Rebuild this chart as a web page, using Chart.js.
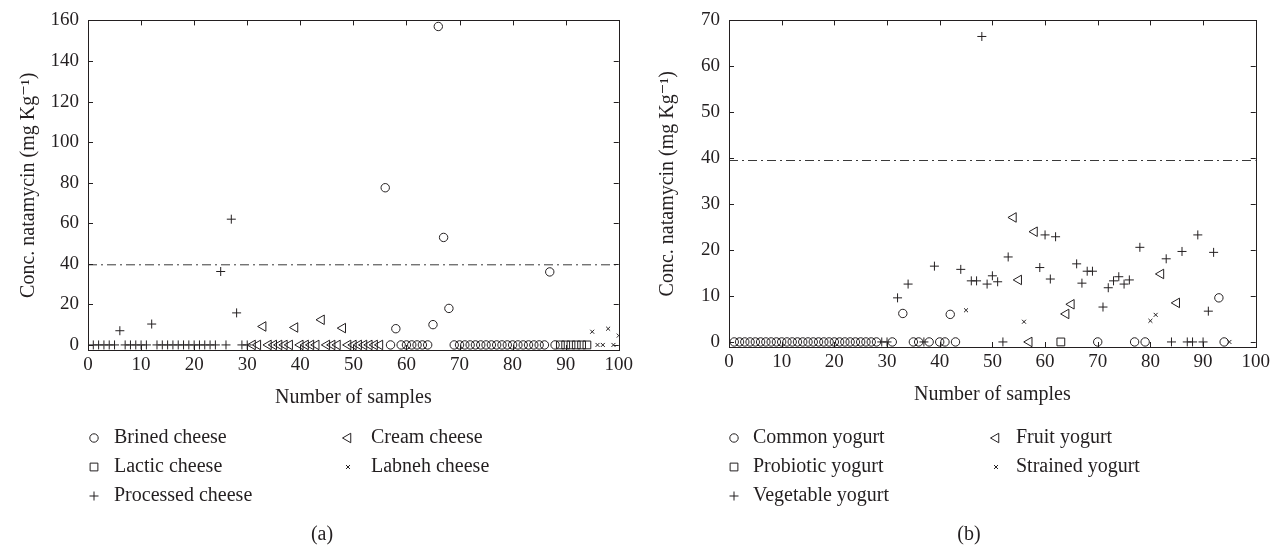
<!DOCTYPE html>
<html>
<head>
<meta charset="utf-8">
<script src="https://cdn.jsdelivr.net/npm/chart.js@4.4.1/dist/chart.umd.min.js"></script>
<style>
html,body{margin:0;padding:0;background:#fff;}
#wrap{position:relative;width:1274px;height:549px;overflow:hidden;}
canvas{position:absolute;top:0;}
</style>
</head>
<body>
<div id="wrap">
<canvas id="cheese" width="637" height="549" style="left:0"></canvas>
<canvas id="yogurt" width="637" height="549" style="left:637px"></canvas>
</div>
<script>
// ---------- data ----------
const sampleTicks = [0,10,20,30,40,50,60,70,80,90,100];
const cheeseConcTicks = [0,20,40,60,80,100,120,140,160];
const yogurtConcTicks = [0,10,20,30,40,50,60,70];
const limitLevel = 39.5;

// (a) cheese
const brinedX = [56,57,58,59,60,61,62,63,64,65,66,67,68,69,70,71,72,73,74,75,76,77,78,79,80,81,82,83,84,85,86,87,88];
const brinedY = [77.5,0,8,0,0,0,0,0,0,10,157,53,18,0,0,0,0,0,0,0,0,0,0,0,0,0,0,0,0,0,0,36,0];
const lacticX = [89,90,91,92,93,94];
const lacticY = [0,0,0,0,0,0];
const processedX = [1,2,3,4,5,6,7,8,9,10,11,12,13,14,15,16,17,18,19,20,21,22,23,24,25,26,27,28,29,30];
const processedY = [0,0,0,0,0,7,0,0,0,0,0,10.3,0,0,0,0,0,0,0,0,0,0,0,0,36.2,0,62,15.8,0,0];
const creamX = [31,32,33,34,35,36,37,38,39,40,41,42,43,44,45,46,47,48,49,50,51,52,53,54,55];
const creamY = [0,0,9.1,0,0,0,0,0,8.6,0,0,0,0,12.4,0,0,0,8.3,0,0,0,0,0,0,0];
const labnehX = [95,96,97,98,99,100];
const labnehY = [6.5,0,0,8,0,4.6];

// (b) yogurt
const commonX = [1,2,3,4,5,6,7,8,9,10,11,12,13,14,15,16,17,18,19,20,21,22,23,24,25,26,27,28,31,33,35,36,38,40,41,42,43,70,77,79,93,94];
const commonY = [0,0,0,0,0,0,0,0,0,0,0,0,0,0,0,0,0,0,0,0,0,0,0,0,0,0,0,0,0,6.2,0,0,0,0,0,6.0,0,0,0,0,9.6,0];
const probioticX = [63];
const probioticY = [0];
const vegetableX = [29,30,32,34,37,39,44,46,47,48,49,50,51,52,53,59,60,61,62,66,67,68,69,71,72,73,74,75,76,78,83,84,86,87,88,89,90,91,92];
const vegetableY = [0,0,9.6,12.6,0,16.5,15.8,13.3,13.3,66.5,12.6,14.4,13.1,0,18.5,16.2,23.3,13.7,22.9,17,12.8,15.4,15.4,7.6,11.8,13.3,14.2,12.6,13.5,20.6,18.1,0,19.7,0,0,23.3,0,6.7,19.5];
const fruitX = [54,55,57,58,64,65,82,85];
const fruitY = [27.1,13.5,0,24,6.1,8.2,14.8,8.5];
const strainedX = [45,56,80,81,95];
const strainedY = [6.9,4.4,4.6,5.9,0];

const cheeseLabels = ['Brined cheese','Lactic cheese','Processed cheese','Cream cheese','Labneh cheese'];
const yogurtLabels = ['Common yogurt','Probiotic yogurt','Vegetable yogurt','Fruit yogurt','Strained yogurt'];

// ---------- style ----------
const FONT = "'Liberation Serif','DejaVu Serif','Times New Roman',serif";
const INK = '#231f20';
const MARK = {
  circle: {pointStyle:'circle', radius:4.2, rotation:0},
  rect:   {pointStyle:'rect', radius:5.5, rotation:0},
  cross:  {pointStyle:'cross', radius:4.5, rotation:0},
  tri:    {pointStyle:'triangle', radius:5.5, rotation:-90},
  x:      {pointStyle:'crossRot', radius:2.8, rotation:0}
};

function pts(xs, ys){ return xs.map((x,i)=>({x:x, y:ys[i]})); }

function scatterSet(label, xs, ys, m){
  const s = MARK[m];
  return {
    type:'scatter', label:label, data:pts(xs, ys),
    pointStyle:s.pointStyle, pointRadius:s.radius, pointHoverRadius:s.radius,
    pointRotation:s.rotation, pointBorderWidth:1, pointBorderColor:INK,
    pointBackgroundColor:'rgba(0,0,0,0)', borderColor:INK, backgroundColor:'rgba(0,0,0,0)',
    showLine:false, order:1, legendMark:m
  };
}
function limitSet(){
  return {
    type:'line', label:'limit', data:[{x:0,y:limitLevel},{x:100,y:limitLevel}],
    borderColor:'#3a3a3a', borderWidth:1, borderDash:[9,4,2,4], pointRadius:0,
    fill:false, order:2, legendMark:null
  };
}

// legend marker (same shapes as chart points)
function drawMark(ctx, m, x, y){
  const r = MARK[m].radius;
  ctx.save();
  ctx.strokeStyle = INK; ctx.lineWidth = 1;
  ctx.beginPath();
  if (m === 'circle') { ctx.arc(x, y, r, 0, Math.PI*2); }
  else if (m === 'rect') { const h = r*Math.SQRT1_2; ctx.rect(x-h, y-h, 2*h, 2*h); }
  else if (m === 'cross') { ctx.moveTo(x-r,y); ctx.lineTo(x+r,y); ctx.moveTo(x,y-r); ctx.lineTo(x,y+r); }
  else if (m === 'tri') {
    let a = -Math.PI/2;
    ctx.moveTo(x + Math.sin(a)*r, y - Math.cos(a)*r);
    a += 2*Math.PI/3; ctx.lineTo(x + Math.sin(a)*r, y - Math.cos(a)*r);
    a += 2*Math.PI/3; ctx.lineTo(x + Math.sin(a)*r, y - Math.cos(a)*r);
    ctx.closePath();
  }
  else if (m === 'x') { const d = r*Math.SQRT1_2; ctx.moveTo(x-d,y-d); ctx.lineTo(x+d,y+d); ctx.moveTo(x+d,y-d); ctx.lineTo(x-d,y+d); }
  ctx.stroke();
  ctx.restore();
}

const framePlugin = {
  id:'frameTicks',
  afterDatasetsDraw(chart){
    const ctx = chart.ctx, a = chart.chartArea;
    const xs = chart.scales.x, ys = chart.scales.y;
    const L = 5;
    ctx.save();
    ctx.strokeStyle = INK; ctx.lineWidth = 1;
    ctx.strokeRect(Math.round(a.left)+0.5, Math.round(a.top)+0.5, Math.round(a.right-a.left), Math.round(a.bottom-a.top));
    ctx.beginPath();
    xs.ticks.forEach(t=>{
      const p = Math.round(xs.getPixelForValue(t.value))+0.5;
      ctx.moveTo(p, a.bottom); ctx.lineTo(p, a.bottom-L);
      ctx.moveTo(p, a.top); ctx.lineTo(p, a.top+L);
    });
    ys.ticks.forEach(t=>{
      const p = Math.round(ys.getPixelForValue(t.value))+0.5;
      ctx.moveTo(a.left, p); ctx.lineTo(a.left+L, p);
      ctx.moveTo(a.right, p); ctx.lineTo(a.right-L, p);
    });
    ctx.stroke();
    ctx.restore();
  }
};

const legendPlugin = {
  id:'colLegend',
  afterDraw(chart, args, opts){
    const ctx = chart.ctx;
    const sets = chart.data.datasets.filter(d=>d.legendMark);
    ctx.save();
    ctx.font = opts.fontSize + 'px ' + FONT;
    ctx.fillStyle = INK;
    ctx.textBaseline = 'middle';
    ctx.textAlign = 'left';
    sets.forEach((d,i)=>{
      const col = i < 3 ? 0 : 1;
      const row = i < 3 ? i : i-3;
      const y = opts.rows[row];
      drawMark(ctx, d.legendMark, opts.markX[col], y);
      ctx.fillText(d.label, opts.textX[col], y);
    });
    ctx.textAlign = 'center';
    ctx.fillText(opts.caption, opts.captionX, opts.captionY);
    ctx.restore();
  }
};

function makeChart(id, datasets, L){
  const tickFont = {family:FONT, size:19};
  return new Chart(document.getElementById(id), {
    data:{datasets:datasets},
    options:{
      responsive:false, animation:false, devicePixelRatio:1,
      layout:{padding:{top:L.top, right:L.right, left:0, bottom:549 - L.bottom - 60}},
      plugins:{
        legend:{display:false}, tooltip:{enabled:false},
        colLegend:{fontSize:20, rows:[438,467,496], markX:L.markX, textX:L.textX,
                   caption:L.caption, captionX:L.captionX, captionY:535}
      },
      scales:{
        x:{type:'linear', position:'bottom', min:0, max:100,
           afterBuildTicks:s=>{ s.ticks = sampleTicks.map(v=>({value:v})); },
           afterFit:s=>{ s.height = 60; },
           grid:{display:false, drawTicks:false},
           border:{display:false},
           ticks:{font:tickFont, color:INK, padding:4, maxRotation:0},
           title:{display:true, text:'Number of samples', color:INK,
                  font:{family:FONT, size:20}, padding:{top:L.xTitlePad, bottom:0}}
        },
        y:{type:'linear', position:'left', min:L.ymin, max:L.ymax,
           afterBuildTicks:s=>{ s.ticks = L.yTicks.map(v=>({value:v})); },
           afterFit:s=>{ s.width = L.left; },
           grid:{display:false, drawTicks:false},
           border:{display:false},
           ticks:{font:tickFont, color:INK, padding:9},
           title:{display:true, text:'Conc. natamycin (mg Kg\u207B\u00B9)', color:INK,
                  font:{family:FONT, size:20}, padding:{top:L.yTitlePad, bottom:0}}
        }
      }
    },
    plugins:[framePlugin, legendPlugin]
  });
}

const cheeseSets = [
  scatterSet(cheeseLabels[0], brinedX, brinedY, 'circle'),
  scatterSet(cheeseLabels[1], lacticX, lacticY, 'rect'),
  scatterSet(cheeseLabels[2], processedX, processedY, 'cross'),
  scatterSet(cheeseLabels[3], creamX, creamY, 'tri'),
  scatterSet(cheeseLabels[4], labnehX, labnehY, 'x'),
  limitSet()
];
const yogurtSets = [
  scatterSet(yogurtLabels[0], commonX, commonY, 'circle'),
  scatterSet(yogurtLabels[1], probioticX, probioticY, 'rect'),
  scatterSet(yogurtLabels[2], vegetableX, vegetableY, 'cross'),
  scatterSet(yogurtLabels[3], fruitX, fruitY, 'tri'),
  scatterSet(yogurtLabels[4], strainedX, strainedY, 'x'),
  limitSet()
];

makeChart('cheese', cheeseSets, {
  top:15, right:17, left:88, bottom:350, ymin:-2.5, ymax:160, yTicks:cheeseConcTicks,
  xTitlePad:13, yTitlePad:17,
  markX:[94,348], textX:[114,371], caption:'(a)', captionX:322
});
makeChart('yogurt', yogurtSets, {
  top:15, right:15, left:92, bottom:347, ymin:-1.1, ymax:70, yTicks:yogurtConcTicks,
  xTitlePad:10, yTitlePad:19,
  markX:[97,359], textX:[116,379], caption:'(b)', captionX:332
});
</script>
</body>
</html>
